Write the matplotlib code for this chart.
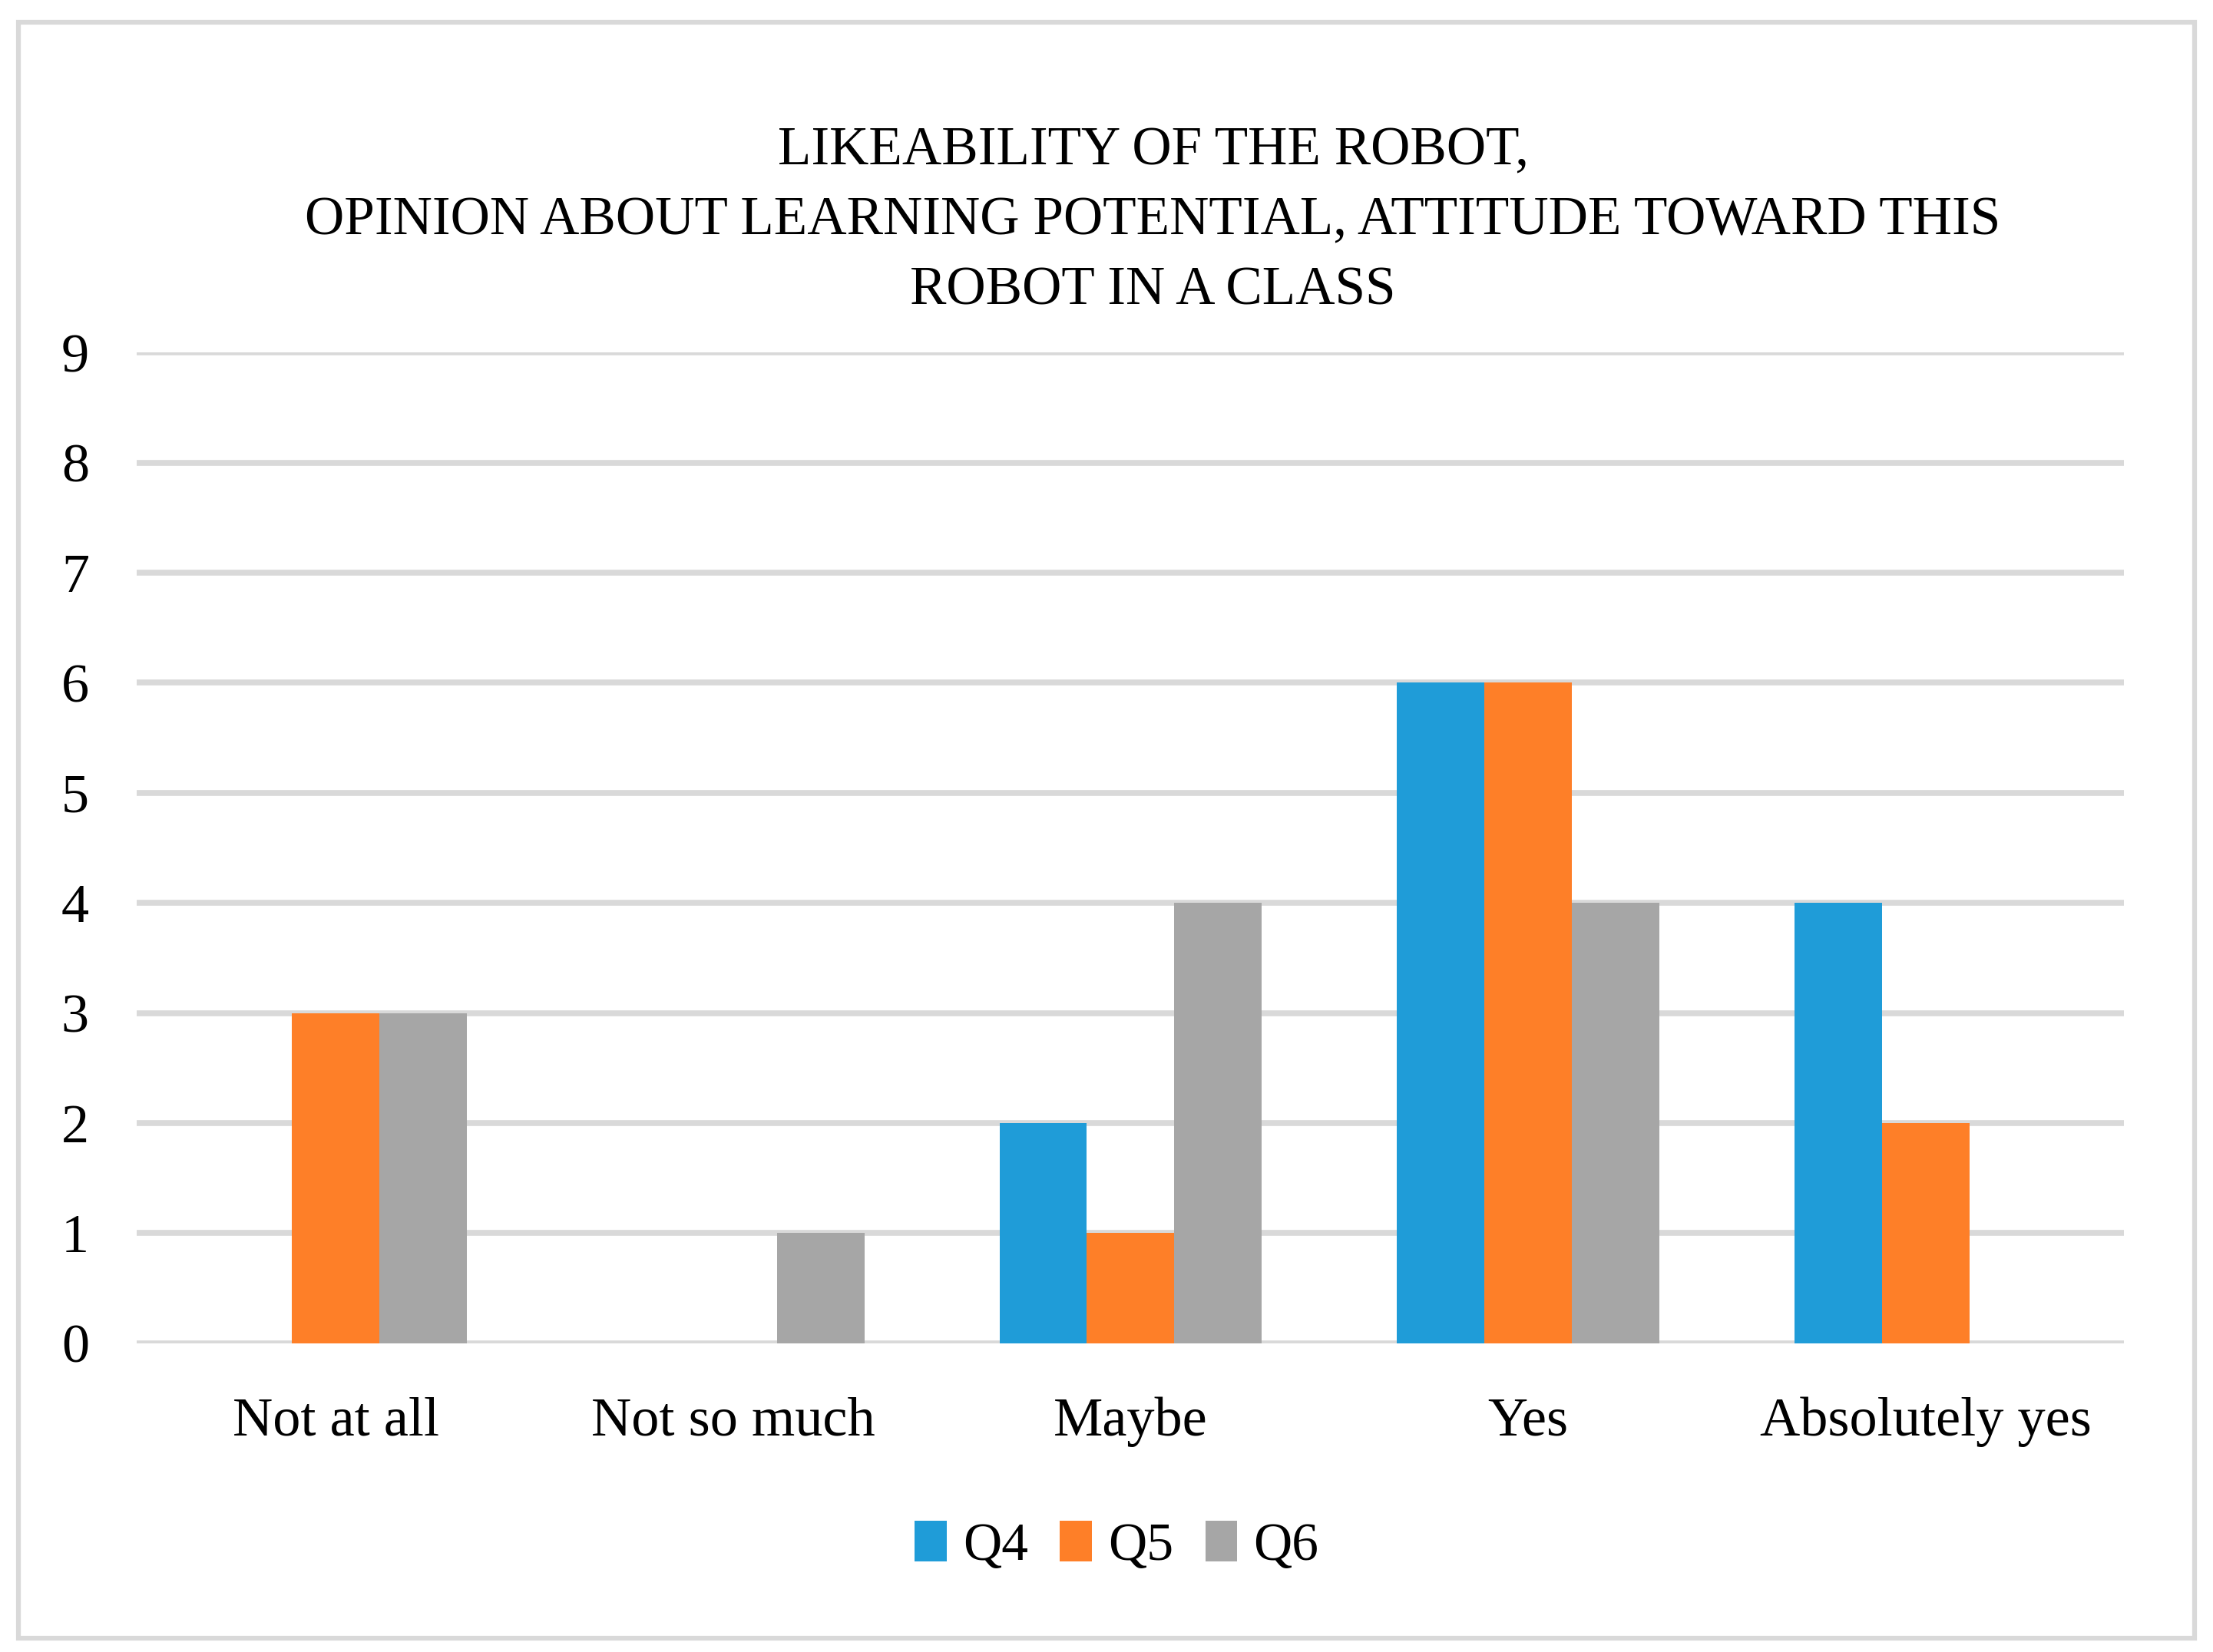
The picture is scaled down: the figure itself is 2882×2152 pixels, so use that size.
import numpy as np
import matplotlib.pyplot as plt
from matplotlib.patches import Rectangle

categories = ['Not at all', 'Not so much', 'Maybe', 'Yes', 'Absolutely yes']
q4 = [0, 0, 2, 6, 4]
q5 = [3, 0, 1, 6, 2]
q6 = [3, 1, 4, 4, 0]
series = {'Q4': q4, 'Q5': q5, 'Q6': q6}
colors = ['#1f9cd8', '#fe7f28', '#a6a6a6']
yticks = list(range(0, 10))

plt.rcParams['font.family'] = ['Liberation Serif', 'DejaVu Serif']

fig = plt.figure(figsize=(28.82, 21.52), dpi=100)
ax = fig.add_axes([0.0619, 0.187, 0.898, 0.5995])

x = np.arange(len(categories))
w = 0.22
for i, (name, vals) in enumerate(series.items()):
    ax.bar(x + (i - 1) * w, vals, width=w, color=colors[i], label=name, zorder=3)

ax.set_xlim(-0.5, len(categories) - 0.5)
ax.set_ylim(0, 9)
ax.set_yticks(yticks)
ax.set_yticklabels([str(t) for t in yticks])
ax.set_xticks(x)
ax.set_xticklabels(categories)
ax.grid(axis='y', color='#d9d9d9', linewidth=5.5, zorder=0)
ax.set_axisbelow(True)
for s in ax.spines.values():
    s.set_visible(False)
ax.tick_params(axis='both', length=0, labelsize=52)
ax.tick_params(axis='x', pad=50)
ax.tick_params(axis='y', pad=58)
for lbl in ax.get_yticklabels():
    lbl.set_horizontalalignment('center')

fig.text(0.521, 0.866,
         'LIKEABILITY OF THE ROBOT,\nOPINION ABOUT LEARNING POTENTIAL, ATTITUDE TOWARD THIS\nROBOT IN A CLASS',
         ha='center', va='center', fontsize=51.2, linespacing=1.52)

ax.legend(loc='center', bbox_to_anchor=(0.493, -0.205), ncol=3, frameon=False,
          fontsize=50, handlelength=0.6, handleheight=0.8, handletextpad=0.3,
          columnspacing=0.6)

fig.patches.append(Rectangle((0.0085, 0.0085), 0.983, 0.978, transform=fig.transFigure,
                             fill=False, edgecolor='#d9d9d9', linewidth=4.5))

fig.savefig('out.png', dpi=100)
